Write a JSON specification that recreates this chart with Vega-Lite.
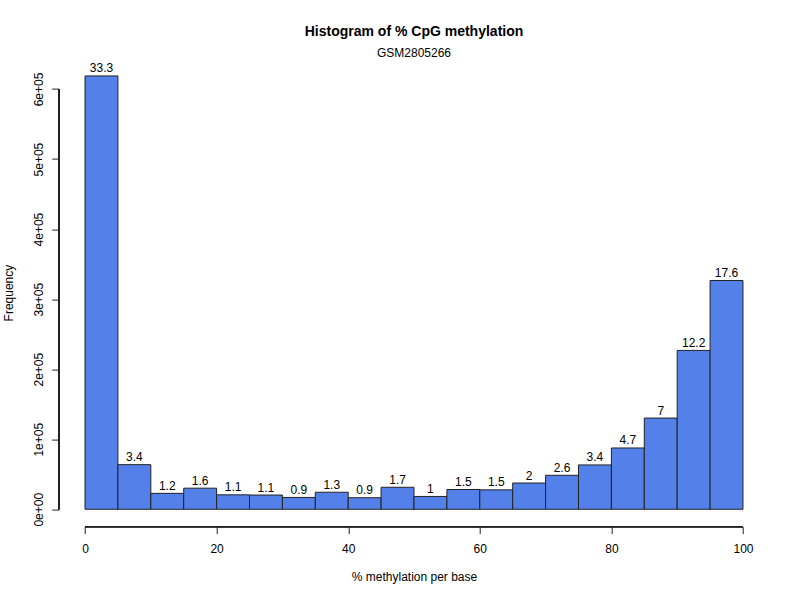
{
  "$schema": "https://vega.github.io/schema/vega-lite/v6.json",
  "width": 710.6,
  "height": 468,
  "autosize": "none",
  "padding": {"left": 58.7, "top": 58.6, "right": 30.7, "bottom": 73.4},
  "background": "white",
  "title": {
    "text": "Histogram of % CpG methylation",
    "subtitle": "GSM2805266",
    "font": "Liberation Sans",
    "fontSize": 14,
    "fontWeight": "bold",
    "color": "black",
    "subtitleFont": "Liberation Sans",
    "subtitleFontSize": 12,
    "subtitleColor": "black",
    "subtitlePadding": 9,
    "anchor": "middle",
    "frame": "group",
    "offset": 0
  },
  "config": {
    "view": {"stroke": null},
    "axis": {
      "labelFont": "Liberation Sans",
      "titleFont": "Liberation Sans",
      "labelFontSize": 12,
      "titleFontSize": 12,
      "titleFontWeight": "normal",
      "labelColor": "black",
      "titleColor": "black",
      "tickColor": "#222222",
      "tickSize": 7,
      "grid": false,
      "domain": false
    }
  },
  "data": {
    "values": [
      {"lo": 0, "hi": 5, "mid": 2.5, "count": 618700, "pct": "33.3"},
      {"lo": 5, "hi": 10, "mid": 7.5, "count": 63700, "pct": "3.4"},
      {"lo": 10, "hi": 15, "mid": 12.5, "count": 22700, "pct": "1.2"},
      {"lo": 15, "hi": 20, "mid": 17.5, "count": 30100, "pct": "1.6"},
      {"lo": 20, "hi": 25, "mid": 22.5, "count": 20600, "pct": "1.1"},
      {"lo": 25, "hi": 30, "mid": 27.5, "count": 20300, "pct": "1.1"},
      {"lo": 30, "hi": 35, "mid": 32.5, "count": 16900, "pct": "0.9"},
      {"lo": 35, "hi": 40, "mid": 37.5, "count": 24300, "pct": "1.3"},
      {"lo": 40, "hi": 45, "mid": 42.5, "count": 16500, "pct": "0.9"},
      {"lo": 45, "hi": 50, "mid": 47.5, "count": 31400, "pct": "1.7"},
      {"lo": 50, "hi": 55, "mid": 52.5, "count": 18300, "pct": "1"},
      {"lo": 55, "hi": 60, "mid": 57.5, "count": 28200, "pct": "1.5"},
      {"lo": 60, "hi": 65, "mid": 62.5, "count": 27700, "pct": "1.5"},
      {"lo": 65, "hi": 70, "mid": 67.5, "count": 37500, "pct": "2"},
      {"lo": 70, "hi": 75, "mid": 72.5, "count": 48500, "pct": "2.6"},
      {"lo": 75, "hi": 80, "mid": 77.5, "count": 63300, "pct": "3.4"},
      {"lo": 80, "hi": 85, "mid": 82.5, "count": 87500, "pct": "4.7"},
      {"lo": 85, "hi": 90, "mid": 87.5, "count": 130200, "pct": "7"},
      {"lo": 90, "hi": 95, "mid": 92.5, "count": 226800, "pct": "12.2"},
      {"lo": 95, "hi": 100, "mid": 97.5, "count": 326600, "pct": "17.6"}
    ]
  },
  "layer": [
    {
      "mark": {"type": "bar", "fill": "#5380E9", "stroke": "#222222", "strokeWidth": 1, "binSpacing": 0},
      "encoding": {
        "x": {
          "field": "lo",
          "type": "quantitative",
          "scale": {"domain": [-4, 104], "nice": false, "zero": false},
          "axis": {
            "values": [0, 20, 40, 60, 80, 100],
            "title": "% methylation per base",
            "labelPadding": 10,
            "titleY": 45
          }
        },
        "x2": {"field": "hi"},
        "y": {
          "field": "count",
          "type": "quantitative",
          "scale": {"domain": [-24748, 643448], "nice": false, "zero": false},
          "axis": {
            "values": [0, 100000, 200000, 300000, 400000, 500000, 600000],
            "labelExpr": "datum.value == 0 ? '0e+00' : (datum.value / 100000) + 'e+05'",
            "labelAngle": -90,
            "labelAlign": "center",
            "labelBaseline": "alphabetic",
            "labelPadding": 9,
            "title": "Frequency",
            "titleAngle": -90,
            "titleBaseline": "alphabetic",
            "titleAlign": "center",
            "titleX": -46
          }
        },
        "y2": {"datum": 0}
      }
    },
    {
      "mark": {"type": "text", "font": "Liberation Sans", "fontSize": 12, "color": "black", "baseline": "alphabetic", "dy": -3.5},
      "encoding": {
        "x": {"field": "mid", "type": "quantitative"},
        "y": {"field": "count", "type": "quantitative"},
        "text": {"field": "pct"}
      }
    },
    {
      "mark": {"type": "rule", "color": "#222222", "strokeWidth": 1},
      "encoding": {
        "x": {"datum": -4},
        "y": {"datum": 0},
        "y2": {"datum": 600000}
      }
    },
    {
      "mark": {"type": "rule", "color": "#222222", "strokeWidth": 1},
      "encoding": {
        "y": {"datum": -24748},
        "x": {"datum": 0},
        "x2": {"datum": 100}
      }
    }
  ]
}
